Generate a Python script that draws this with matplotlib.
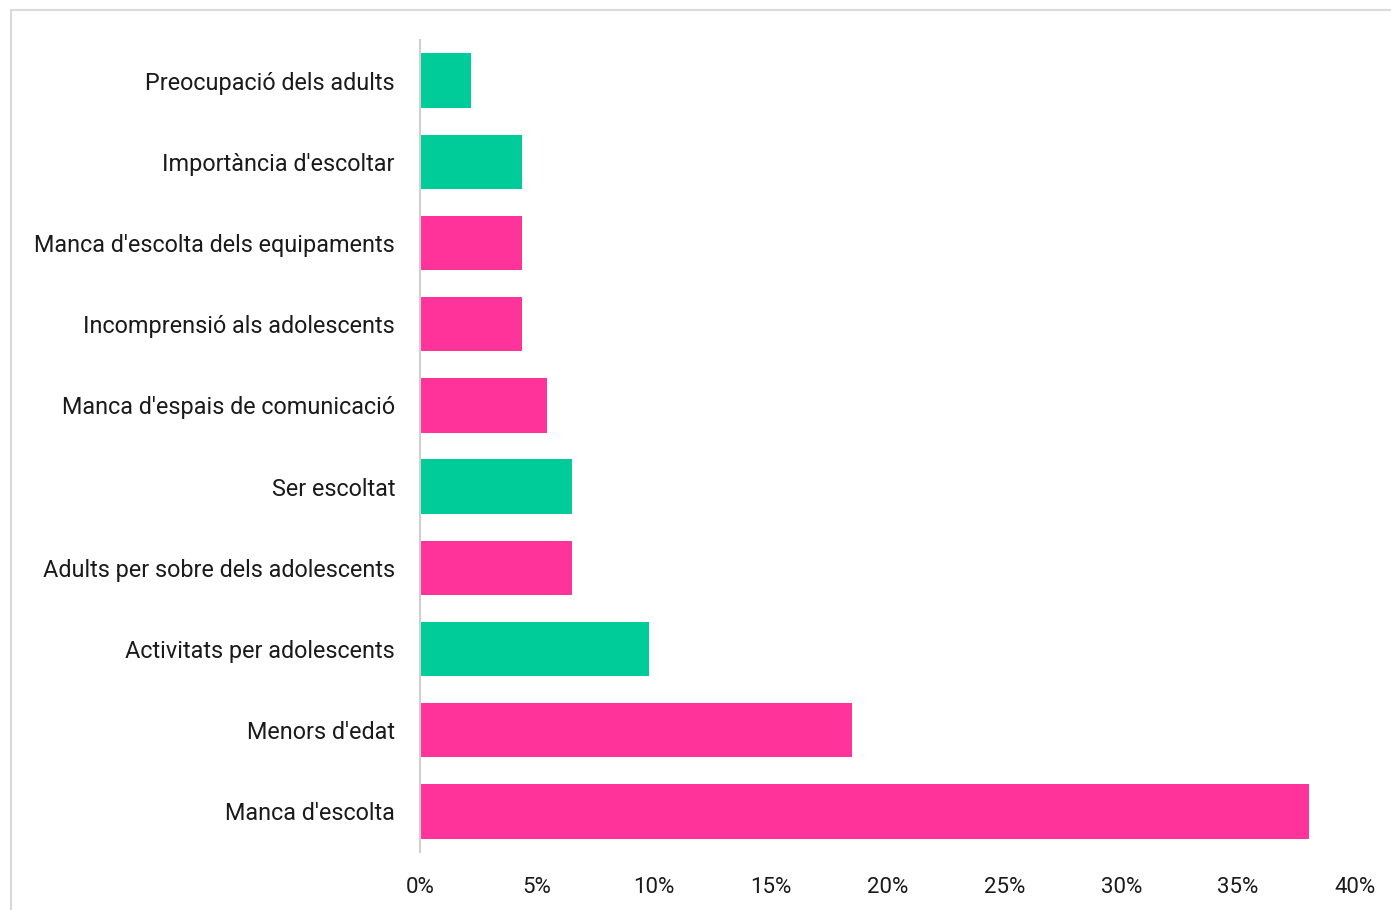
import matplotlib
matplotlib.use("Agg")
import matplotlib.pyplot as plt
from matplotlib.patches import Rectangle

plt.rcParams['font.family'] = ['Roboto', 'DejaVu Sans']

# categories from top to bottom, share of answers (%)
categories = ["Preocupació dels adults", "Importància d'escoltar",
              "Manca d'escolta dels equipaments", "Incomprensió als adolescents",
              "Manca d'espais de comunicació", "Ser escoltat",
              "Adults per sobre dels adolescents", "Activitats per adolescents",
              "Menors d'edat", "Manca d'escolta"]
values = [2.17, 4.35, 4.35, 4.35, 5.43, 6.52, 6.52, 9.78, 18.48, 38.04]
# green = positive aspect, pink = negative aspect
kind = ["pos", "pos", "neg", "neg", "neg", "pos", "neg", "pos", "neg", "neg"]
colors = {"pos": "#00CC99", "neg": "#FF3399"}
xticks = [0, 5, 10, 15, 20, 25, 30, 35, 40]

fig = plt.figure(figsize=(13.91, 9.10), dpi=100)
# light frame around the chart
fig.patches.append(Rectangle((11/1391, -0.05), 1.1, 1 - 10/910 + 0.05,
                             transform=fig.transFigure, fill=False,
                             edgecolor="#d9d9d9", linewidth=1.5))

ax = fig.add_axes([420/1391, 58/910, (1355-420)/1391, (870-58)/910])
ypos = list(range(len(categories)))
ax.barh(ypos, values, height=0.67, color=[colors[k] for k in kind])

ax.set_ylim(len(categories) - 0.5, -0.5)
ax.set_xlim(0, 40)
ax.set_yticks(ypos)
ax.set_yticklabels(categories, fontsize=16.8, color="#1a1a1a")
ax.set_xticks(xticks)
ax.set_xticklabels([f"{t}%" for t in xticks], fontsize=16, color="#1a1a1a")
ax.tick_params(axis="y", length=0, pad=18)
ax.tick_params(axis="x", length=0, pad=18)

for s in ["top", "right", "bottom"]:
    ax.spines[s].set_visible(False)
ax.spines["left"].set_color("#d0d0d0")
ax.spines["left"].set_linewidth(1.5)

fig.savefig("out.png", dpi=100)
